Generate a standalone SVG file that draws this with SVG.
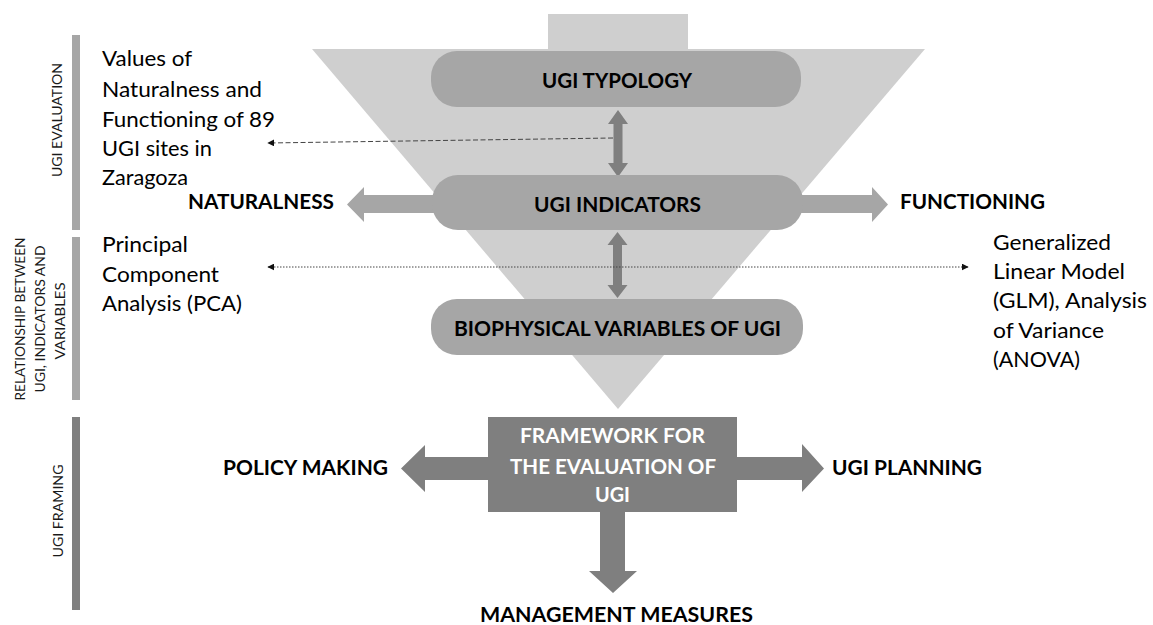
<svg xmlns="http://www.w3.org/2000/svg" width="1153" height="625" viewBox="0 0 1153 625">
<style>
.lbl{font-family:Lato,"Open Sans","Liberation Sans",sans-serif;fill:#000;}
.b{font-weight:bold;font-size:21px;}
.r{font-size:21px;}
.side{font-family:Lato,"Open Sans","Liberation Sans",sans-serif;font-size:14px;fill:#1a1a1a;text-anchor:middle;}
.wb{font-family:Lato,"Open Sans","Liberation Sans",sans-serif;font-weight:bold;font-size:21px;fill:#fff;text-anchor:middle;}
.mid{text-anchor:middle;}
.box{fill:#a6a6a6;}
.dark{fill:#7f7f7f;}
.light{fill:#a6a6a6;}
.funnel{fill:#cfcfcf;}
.dash{stroke:#444;stroke-width:1;fill:none;stroke-dasharray:5 2.5;}
.dot{stroke:#444;stroke-width:1;fill:none;stroke-dasharray:1.5 1.5;}
</style>
<defs>
<marker id="ah" viewBox="0 0 10 10" refX="9" refY="5" markerWidth="7" markerHeight="7" markerUnits="userSpaceOnUse" orient="auto-start-reverse">
<path d="M0,0 L10,5 L0,10 z" fill="#111"/>
</marker>
</defs>

<g id="funnel">
<rect class="funnel" x="548" y="14" width="140" height="36"/>
<polygon class="funnel" points="312,49 925,49 618,409"/>
</g>

<g id="side-bars">
<rect class="light" x="72" y="35" width="8" height="195"/>
<rect class="light" x="72" y="237" width="8" height="163"/>
<rect class="dark" x="72" y="417" width="8" height="193"/>
<text class="side" transform="translate(62,120) rotate(-90)" textLength="114" lengthAdjust="spacingAndGlyphs">UGI EVALUATION</text>
<text class="side" transform="translate(25,319) rotate(-90)" textLength="163" lengthAdjust="spacingAndGlyphs">RELATIONSHIP BETWEEN</text>
<text class="side" transform="translate(45,319) rotate(-90)" textLength="147" lengthAdjust="spacingAndGlyphs">UGI, INDICATORS AND</text>
<text class="side" transform="translate(65,321) rotate(-90)" textLength="77" lengthAdjust="spacingAndGlyphs">VARIABLES</text>
<text class="side" transform="translate(63,511) rotate(-90)" textLength="93" lengthAdjust="spacingAndGlyphs">UGI FRAMING</text>
</g>

<g id="connectors">
<polygon class="light" points="440,195 364,195 364,187 347,204.5 364,222 364,213 440,213"/>
<polygon class="light" points="795,195 872,195 872,187 888,204.5 872,222 872,213 795,213"/>
<polygon class="dark" points="618,110 628,124 622.5,124 622.5,163 628,163 618,177 608,163 613.5,163 613.5,124 608,124"/>
<polygon class="dark" points="617.5,232 627.5,245 622,245 622,285 627.5,285 617.5,298 607.5,285 613,285 613,245 607.5,245"/>
<polygon class="dark" points="500,457 425,457 425,445 401,468.5 425,492 425,480 500,480"/>
<polygon class="dark" points="725,457 802,457 802,444 824,468.5 802,492 802,480 725,480"/>
<polygon class="dark" points="600,505 600,571 589,571 613,593 637,571 625,571 625,505"/>
<line class="dash" x1="613" y1="138" x2="268" y2="143" marker-end="url(#ah)"/>
<line class="dot" x1="268" y1="267" x2="968" y2="267" marker-start="url(#ah)" marker-end="url(#ah)"/>
</g>

<g id="ugi-typology">
<rect class="box" x="431" y="51" width="370" height="56" rx="26"/>
<text class="lbl b mid" x="617" y="88" textLength="150" lengthAdjust="spacingAndGlyphs">UGI TYPOLOGY</text>
</g>

<g id="ugi-indicators">
<rect class="box" x="432" y="175" width="371" height="55" rx="26"/>
<text class="lbl b mid" x="617.5" y="212" textLength="167" lengthAdjust="spacingAndGlyphs">UGI INDICATORS</text>
</g>

<g id="biophysical">
<rect class="box" x="431" y="299" width="372" height="56" rx="26"/>
<text class="lbl b mid" x="617.5" y="336" textLength="327" lengthAdjust="spacingAndGlyphs">BIOPHYSICAL VARIABLES OF UGI</text>
</g>

<g id="naturalness">
<text class="lbl b" x="188" y="209" textLength="146" lengthAdjust="spacingAndGlyphs">NATURALNESS</text>
</g>

<g id="functioning">
<text class="lbl b" x="900" y="209" textLength="145" lengthAdjust="spacingAndGlyphs">FUNCTIONING</text>
</g>

<g id="values-note">
<text class="lbl r" x="102" y="66" textLength="90" lengthAdjust="spacingAndGlyphs">Values of</text>
<text class="lbl r" x="102" y="97" textLength="160" lengthAdjust="spacingAndGlyphs">Naturalness and</text>
<text class="lbl r" x="102" y="127" textLength="173" lengthAdjust="spacingAndGlyphs">Functioning of 89</text>
<text class="lbl r" x="102" y="156" textLength="110" lengthAdjust="spacingAndGlyphs">UGI sites in</text>
<text class="lbl r" x="102" y="185" textLength="86" lengthAdjust="spacingAndGlyphs">Zaragoza</text>
</g>

<g id="pca-note">
<text class="lbl r" x="102" y="252" textLength="86" lengthAdjust="spacingAndGlyphs">Principal</text>
<text class="lbl r" x="102" y="282" textLength="117" lengthAdjust="spacingAndGlyphs">Component</text>
<text class="lbl r" x="102" y="311" textLength="140" lengthAdjust="spacingAndGlyphs">Analysis (PCA)</text>
</g>

<g id="glm-note">
<text class="lbl r" x="993" y="250" textLength="118" lengthAdjust="spacingAndGlyphs">Generalized</text>
<text class="lbl r" x="993" y="279" textLength="132" lengthAdjust="spacingAndGlyphs">Linear Model</text>
<text class="lbl r" x="993" y="308" textLength="154" lengthAdjust="spacingAndGlyphs">(GLM), Analysis</text>
<text class="lbl r" x="993" y="338" textLength="111" lengthAdjust="spacingAndGlyphs">of Variance</text>
<text class="lbl r" x="993" y="367" textLength="87" lengthAdjust="spacingAndGlyphs">(ANOVA)</text>
</g>

<g id="framework">
<rect class="dark" x="488" y="417" width="249" height="95"/>
<text class="wb" x="612.5" y="443" textLength="185" lengthAdjust="spacingAndGlyphs">FRAMEWORK FOR</text>
<text class="wb" x="613" y="474" textLength="206" lengthAdjust="spacingAndGlyphs">THE EVALUATION OF</text>
<text class="wb" x="612.5" y="502" textLength="35" lengthAdjust="spacingAndGlyphs">UGI</text>
</g>

<g id="policy-making">
<text class="lbl b" x="223" y="475" textLength="165" lengthAdjust="spacingAndGlyphs">POLICY MAKING</text>
</g>

<g id="ugi-planning">
<text class="lbl b" x="832" y="475" textLength="150" lengthAdjust="spacingAndGlyphs">UGI PLANNING</text>
</g>

<g id="management-measures">
<text class="lbl b mid" x="616.5" y="622" textLength="273" lengthAdjust="spacingAndGlyphs">MANAGEMENT MEASURES</text>
</g>
</svg>
